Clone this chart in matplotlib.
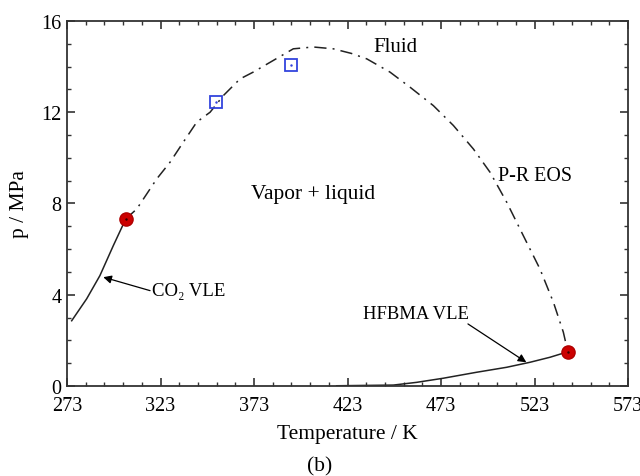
"""
plot.py -- p-T phase diagram, CO2 + HFBMA with P-R EOS critical locus.
"""
import matplotlib
matplotlib.use("Agg")
import matplotlib.pyplot as plt

plt.rcParams["font.family"] = ["Liberation Serif", "DejaVu Serif"]

# CO2 vapour-liquid equilibrium (solid line)
co2_T = [275.5, 283.5, 290.6, 297.8, 304.4]
co2_p = [2.86, 3.82, 4.84, 6.16, 7.32]

# HFBMA vapour-liquid equilibrium (solid line)
hf_T = [417.2, 447.5, 460.0, 474.2, 491.9, 508.1, 520.6, 531.3, 540.8]
hf_p = [0.01, 0.04, 0.16, 0.34, 0.60, 0.82, 1.04, 1.26, 1.50]

# P-R EOS critical locus (dash-dot)
pr_T = [304.4, 310.3, 321.0, 328.1, 335.2, 342.4, 349.5, 356.6, 365.5,
        372.6, 383.3, 394.0, 404.7, 415.4, 425.0, 433.3, 445.7, 456.4,
        468.9, 479.6, 490.3, 499.2, 508.1, 517.0, 525.9, 533.1, 538.4, 540.8]
pr_p = [7.32, 7.76, 9.08, 9.81, 10.69, 11.57, 12.00, 12.73, 13.46,
        13.76, 14.27, 14.78, 14.86, 14.78, 14.58, 14.34, 13.76, 13.10,
        12.29, 11.42, 10.39, 9.37, 8.06, 6.59, 5.13, 3.67, 2.36, 1.50]

# pure-component critical points (red)
crit_T = [304.4, 540.8]
crit_p = [7.32, 1.50]

# experimental mixture critical points (open squares)
exp_T = [352.7, 392.8]
exp_p = [12.46, 14.08]

x_ticks = [273, 323, 373, 423, 473, 523, 573]
y_ticks = [0, 4, 8, 12, 16]


def main():
    fig = plt.figure(figsize=(6.4, 4.77), dpi=100)
    ax = fig.add_axes([0.1047, 0.1887, 0.8766, 0.7652])

    ax.plot(co2_T, co2_p, color="#222222", lw=1.1)
    ax.plot(hf_T, hf_p, color="#222222", lw=1.1)
    ax.plot(pr_T, pr_p, color="#222222", lw=1.1, dashes=(8, 4, 1.3, 4))

    ax.plot(crit_T, crit_p, "o", ms=9.5, color="#CC0000", mec="#B00000", zorder=5)
    ax.plot(crit_T, crit_p, ".", ms=1.5, color="#330000", zorder=6)
    ax.plot(exp_T, exp_p, "s", ms=8.5, mfc="none", mec="#3344DD", mew=1.3, zorder=5)
    ax.plot(exp_T, exp_p, ".", ms=1.5, color="#3344DD", zorder=6)

    ax.text(436.8, 14.86, "Fluid", fontsize=15, ha="left", va="center")
    ax.text(503.6, 9.22, "P-R EOS", fontsize=14.4, ha="left", va="center")
    ax.text(404.7, 8.42, "Vapor + liquid", fontsize=15.4, ha="center", va="center")
    ax.text(318.3, 4.18, "CO₂ VLE", fontsize=13.5, ha="left", va="center")
    ax.text(459.4, 3.16, "HFBMA VLE", fontsize=13.4, ha="center", va="center")

    arrow = dict(arrowstyle="-|>", color="black", lw=0.9, mutation_scale=12,
                 shrinkA=0, shrinkB=0)
    ax.annotate("", xy=(292.4, 4.77), xytext=(317.4, 4.18), arrowprops=arrow)
    ax.annotate("", xy=(518.6, 1.04), xytext=(487.4, 2.72), arrowprops=arrow)

    ax.set_xlim(273, 573)
    ax.set_ylim(0, 16)
    ax.set_xticks(x_ticks)
    ax.set_xticks(range(283, 573, 10), minor=True)
    ax.set_yticks(y_ticks)
    ax.set_yticks(range(1, 16), minor=True)
    ax.tick_params(which="both", direction="in", top=True, right=True,
                   labelsize=14.5, color="#333333")
    ax.tick_params(axis="x", pad=7)
    ax.tick_params(axis="y", pad=4)
    ax.tick_params(which="major", length=6, width=1.2)
    ax.tick_params(which="minor", length=2.6, width=1.0)
    for sp in ax.spines.values():
        sp.set_color("#333333")
        sp.set_linewidth(1.3)

    ax.set_xlabel("Temperature / K", fontsize=15.5, labelpad=7)
    ax.set_ylabel("p / MPa", fontsize=15.5, labelpad=9)
    fig.text(0.5, 1 - 467 / 477, "(b)", fontsize=15.5, ha="center", va="center")

    fig.savefig("out.png", dpi=100)


if __name__ == "__main__":
    main()
